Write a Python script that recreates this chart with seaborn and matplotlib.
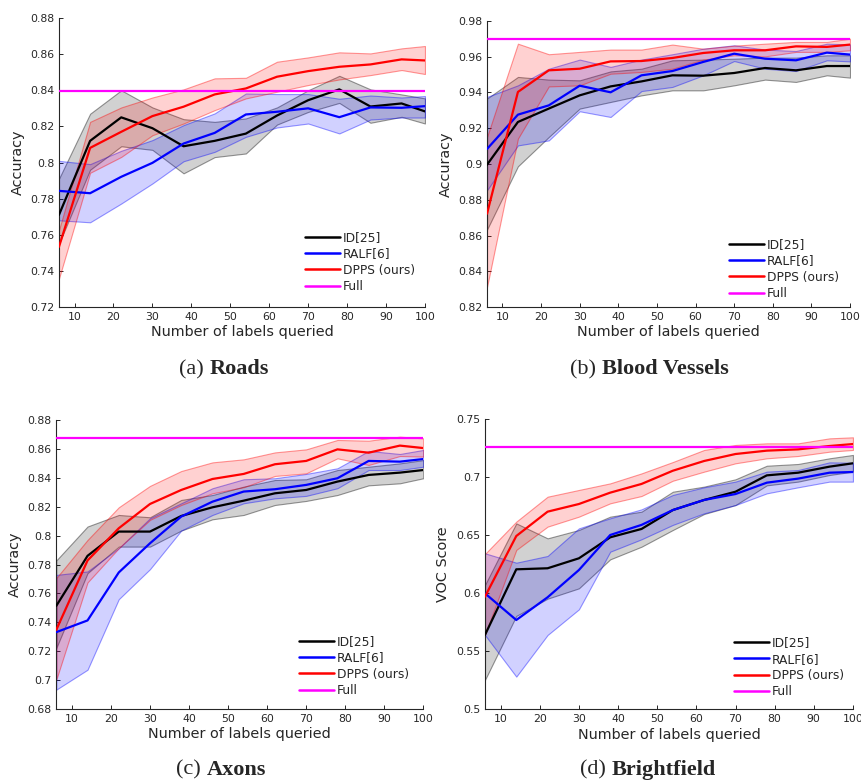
import numpy as np
import pandas as pd
import seaborn as sns
import matplotlib
matplotlib.use("Agg")
import matplotlib.pyplot as plt
from matplotlib.lines import Line2D
from matplotlib.ticker import FuncFormatter

# ---------------------------------------------------------------------------
# Data: number of labels queried and mean / lower / upper curves per method
# ---------------------------------------------------------------------------
labels_queried = [6, 14, 22, 30, 38, 46, 54, 62, 70, 78, 86, 94, 100]
methods = ["ID[25]", "RALF[6]", "DPPS (ours)"]

# (a) Roads
roads_id = [0.771, 0.812, 0.825, 0.819, 0.809, 0.812, 0.816, 0.826, 0.8345, 0.8405, 0.831, 0.8327, 0.8283]
roads_id_lo = [0.755, 0.796, 0.809, 0.807, 0.794, 0.803, 0.805, 0.821, 0.828, 0.833, 0.822, 0.8253, 0.8216]
roads_id_hi = [0.791, 0.827, 0.840, 0.8305, 0.824, 0.8225, 0.8244, 0.8305, 0.840, 0.848, 0.8405, 0.8377, 0.8355]
roads_ralf = [0.7843, 0.783, 0.7921, 0.7998, 0.8105, 0.8164, 0.8266, 0.8281, 0.830, 0.8251, 0.8305, 0.8303, 0.8312]
roads_ralf_lo = [0.768, 0.7669, 0.7773, 0.7884, 0.8007, 0.8059, 0.8142, 0.8194, 0.8216, 0.8161, 0.8238, 0.8249, 0.8249]
roads_ralf_hi = [0.8009, 0.7991, 0.8065, 0.8124, 0.8207, 0.8272, 0.8382, 0.8379, 0.8379, 0.8353, 0.8371, 0.836, 0.8368]
roads_dpps = [0.7533, 0.8081, 0.817, 0.8257, 0.8309, 0.8377, 0.841, 0.8475, 0.8506, 0.853, 0.8543, 0.8571, 0.8565]
roads_dpps_lo = [0.7357, 0.7943, 0.8031, 0.8151, 0.8216, 0.829, 0.8355, 0.8392, 0.8429, 0.846, 0.8484, 0.8512, 0.849]
roads_dpps_hi = [0.7625, 0.8225, 0.8305, 0.836, 0.8405, 0.8466, 0.8469, 0.8558, 0.8582, 0.861, 0.8604, 0.8632, 0.8645]
roads_full = 0.8395

# (b) Blood Vessels
vessels_id = [0.8996, 0.9235, 0.931, 0.9384, 0.9434, 0.9462, 0.9496, 0.9494, 0.9509, 0.9537, 0.9524, 0.9548, 0.9548]
vessels_id_lo = [0.8633, 0.8987, 0.9151, 0.931, 0.9347, 0.9384, 0.9412, 0.9412, 0.944, 0.9472, 0.9459, 0.9496, 0.9483]
vessels_id_hi = [0.9366, 0.9487, 0.9472, 0.9468, 0.9518, 0.9533, 0.958, 0.9584, 0.9589, 0.9595, 0.9595, 0.9608, 0.9608]
vessels_ralf = [0.9084, 0.9276, 0.9328, 0.9438, 0.9401, 0.9496, 0.952, 0.9571, 0.9617, 0.9589, 0.958, 0.9623, 0.9612]
vessels_ralf_lo = [0.8853, 0.9104, 0.9132, 0.9295, 0.9263, 0.9408, 0.9431, 0.9496, 0.9576, 0.9533, 0.952, 0.958, 0.9574]
vessels_ralf_hi = [0.9375, 0.944, 0.9533, 0.9584, 0.9543, 0.9584, 0.9614, 0.9645, 0.9664, 0.964, 0.9632, 0.9673, 0.9669]
vessels_dpps = [0.8722, 0.9403, 0.9524, 0.9533, 0.9574, 0.9576, 0.9593, 0.9621, 0.9636, 0.9636, 0.9658, 0.9655, 0.9668]
vessels_dpps_lo = [0.8312, 0.9142, 0.9434, 0.944, 0.9505, 0.9515, 0.9533, 0.9584, 0.9608, 0.9602, 0.9627, 0.9627, 0.9636]
vessels_dpps_hi = [0.9151, 0.9673, 0.9614, 0.9627, 0.964, 0.964, 0.9668, 0.9645, 0.9662, 0.9673, 0.9683, 0.9683, 0.9701]
vessels_full = 0.970

# (c) Axons
axons_id = [0.7514, 0.786, 0.8028, 0.8028, 0.8136, 0.8196, 0.8242, 0.8293, 0.8316, 0.8374, 0.842, 0.8436, 0.8454]
axons_id_lo = [0.7222, 0.774, 0.7924, 0.7924, 0.8035, 0.8113, 0.8143, 0.8212, 0.824, 0.8281, 0.8348, 0.8362, 0.8397]
axons_id_hi = [0.7828, 0.8063, 0.8143, 0.8127, 0.8247, 0.8281, 0.8339, 0.8385, 0.839, 0.8454, 0.8477, 0.850, 0.8523]
axons_ralf = [0.7332, 0.7413, 0.7745, 0.7947, 0.8132, 0.8235, 0.8305, 0.8321, 0.8351, 0.8397, 0.8517, 0.8512, 0.853]
axons_ralf_lo = [0.6934, 0.7072, 0.756, 0.7768, 0.8035, 0.8143, 0.8224, 0.8258, 0.8275, 0.8328, 0.8454, 0.8454, 0.8477]
axons_ralf_hi = [0.7728, 0.7752, 0.7913, 0.812, 0.8224, 0.8328, 0.839, 0.8397, 0.8427, 0.8466, 0.8586, 0.8565, 0.8593]
axons_dpps = [0.7348, 0.7828, 0.8051, 0.8219, 0.8316, 0.8392, 0.8427, 0.8494, 0.8517, 0.8597, 0.8574, 0.8623, 0.8606]
axons_dpps_lo = [0.7003, 0.7676, 0.7913, 0.8109, 0.8212, 0.8293, 0.8335, 0.8413, 0.8431, 0.8535, 0.8489, 0.8551, 0.8547]
axons_dpps_hi = [0.7706, 0.797, 0.8196, 0.8344, 0.8447, 0.8507, 0.8528, 0.8576, 0.8597, 0.8662, 0.8657, 0.8685, 0.8673]
axons_full = 0.8678

# (d) Brightfield
bright_id = [0.5641, 0.6207, 0.6216, 0.6302, 0.6483, 0.6555, 0.6718, 0.6805, 0.6876, 0.7017, 0.704, 0.7092, 0.7121]
bright_id_lo = [0.5253, 0.5805, 0.5954, 0.6043, 0.6293, 0.6402, 0.6546, 0.6684, 0.6761, 0.6931, 0.6963, 0.702, 0.7049]
bright_id_hi = [0.6072, 0.6603, 0.6474, 0.6546, 0.6661, 0.6704, 0.6876, 0.692, 0.6983, 0.710, 0.7115, 0.7164, 0.7193]
bright_ralf = [0.600, 0.577, 0.5966, 0.6201, 0.6503, 0.659, 0.6718, 0.6805, 0.6856, 0.6954, 0.6989, 0.704, 0.7046]
bright_ralf_lo = [0.5641, 0.5282, 0.5641, 0.5862, 0.6359, 0.6466, 0.659, 0.669, 0.6761, 0.6862, 0.6914, 0.6963, 0.6963]
bright_ralf_hi = [0.6345, 0.6264, 0.6322, 0.656, 0.6647, 0.6724, 0.6848, 0.6914, 0.6963, 0.7049, 0.7063, 0.7129, 0.7126]
bright_dpps = [0.5971, 0.6494, 0.6704, 0.677, 0.6868, 0.6943, 0.7057, 0.7141, 0.7201, 0.723, 0.7241, 0.727, 0.7287]
bright_dpps_lo = [0.5641, 0.6374, 0.6575, 0.6661, 0.6776, 0.6839, 0.6971, 0.7049, 0.7121, 0.7164, 0.7184, 0.7221, 0.7236]
bright_dpps_hi = [0.6339, 0.6618, 0.6833, 0.6891, 0.6948, 0.7034, 0.7132, 0.7236, 0.7279, 0.7293, 0.7293, 0.7336, 0.7345]
bright_full = 0.7264

x_ticks = [10, 20, 30, 40, 50, 60, 70, 80, 90, 100]

# ---------------------------------------------------------------------------
# Style
# ---------------------------------------------------------------------------
sns.set_style("ticks", {"xtick.direction": "in", "ytick.direction": "in"})
plt.rcParams["font.family"] = ["DejaVu Sans"]
plt.rcParams["axes.edgecolor"] = "#262626"
plt.rcParams["xtick.color"] = "#262626"
plt.rcParams["ytick.color"] = "#262626"
plt.rcParams["axes.labelcolor"] = "#262626"

palette = {"ID[25]": (0, 0, 0), "RALF[6]": (0, 0, 1), "DPPS (ours)": (1, 0, 0)}
full_color = (1, 0, 1)

fig = plt.figure(figsize=(8.62, 7.80), dpi=100)

panels = [
    dict(rect=[0.0684, 0.6064, 0.4246, 0.3705], ylim=(0.72, 0.88), ystep=0.02, ylabel="Accuracy",
         series=[(roads_id, roads_id_lo, roads_id_hi), (roads_ralf, roads_ralf_lo, roads_ralf_hi),
                 (roads_dpps, roads_dpps_lo, roads_dpps_hi)], full=roads_full,
         leg=(0.672, 0.263), cap=(0.2599, 0.5205), tag="(a) ", name="Roads"),
    dict(rect=[0.5650, 0.6064, 0.4211, 0.3667], ylim=(0.82, 0.98), ystep=0.02, ylabel="Accuracy",
         series=[(vessels_id, vessels_id_lo, vessels_id_hi), (vessels_ralf, vessels_ralf_lo, vessels_ralf_hi),
                 (vessels_dpps, vessels_dpps_lo, vessels_dpps_hi)], full=vessels_full,
         leg=(0.667, 0.241), cap=(0.7535, 0.5205), tag="(b) ", name="Blood Vessels"),
    dict(rect=[0.0653, 0.0910, 0.4258, 0.3705], ylim=(0.68, 0.88), ystep=0.02, ylabel="Accuracy",
         series=[(axons_id, axons_id_lo, axons_id_hi), (axons_ralf, axons_ralf_lo, axons_ralf_hi),
                 (axons_dpps, axons_dpps_lo, axons_dpps_hi)], full=axons_full,
         leg=(0.662, 0.256), cap=(0.2564, 0.0070), tag="(c) ", name="Axons"),
    dict(rect=[0.5626, 0.0906, 0.4269, 0.3718], ylim=(0.50, 0.75), ystep=0.05, ylabel="VOC Score",
         series=[(bright_id, bright_id_lo, bright_id_hi), (bright_ralf, bright_ralf_lo, bright_ralf_hi),
                 (bright_dpps, bright_dpps_lo, bright_dpps_hi)], full=bright_full,
         leg=(0.677, 0.252), cap=(0.7517, 0.0070), tag="(d) ", name="Brightfield"),
]

fmt = FuncFormatter(lambda v, _: f"{round(v, 3):g}")
captions = []

for p in panels:
    ax = fig.add_axes(p["rect"])
    rows = []
    for m, (mean, lo, hi) in zip(methods, p["series"]):
        col = palette[m]
        ax.fill_between(labels_queried, lo, hi, facecolor=(*col, 0.18),
                        edgecolor=(*col, 0.4), linewidth=0.8, zorder=1)
        rows.append(pd.DataFrame({"labels": labels_queried, "score": mean, "method": m}))
    df = pd.concat(rows, ignore_index=True)
    sns.lineplot(data=df, x="labels", y="score", hue="method", hue_order=methods,
                 palette=palette, linewidth=1.6, legend=False, ax=ax, zorder=3)
    ax.axhline(p["full"], color=full_color, linewidth=1.6, zorder=4)

    ax.set_xlim(6, 100)
    ax.set_ylim(*p["ylim"])
    ax.set_xticks(x_ticks)
    ax.set_yticks(np.arange(p["ylim"][0], p["ylim"][1] + 1e-9, p["ystep"]))
    ax.yaxis.set_major_formatter(fmt)
    ax.tick_params(labelsize=7.8, length=3, width=0.7, direction="in", pad=3.5)
    for s in ("top", "right"):
        ax.spines[s].set_visible(False)
    for s in ("left", "bottom"):
        ax.spines[s].set_linewidth(0.8)
    ax.set_xlabel("Number of labels queried", fontsize=10.4, labelpad=2.5)
    ax.set_ylabel(p["ylabel"], fontsize=10.4, labelpad=4)

    handles = [Line2D([], [], color=palette[m], linewidth=1.8) for m in methods]
    handles.append(Line2D([], [], color=full_color, linewidth=1.8))
    ax.legend(handles, methods + ["Full"], loc="upper left", bbox_to_anchor=p["leg"],
              frameon=False, fontsize=8.8, handlelength=2.85, handletextpad=0.25,
              labelspacing=0.27, borderpad=0, borderaxespad=0)

    t1 = fig.text(0, p["cap"][1], p["tag"], family="Liberation Serif", fontsize=16, va="baseline")
    t2 = fig.text(0, p["cap"][1], p["name"], family="Liberation Serif", fontsize=16,
                  fontweight="bold", va="baseline")
    captions.append((t1, t2, p["cap"][0]))

# centre each two-part caption under its panel
fig.canvas.draw()
r = fig.canvas.get_renderer()
W = fig.bbox.width
for t1, t2, cx in captions:
    w1 = t1.get_window_extent(r).width / W
    w2 = t2.get_window_extent(r).width / W
    x0 = cx - (w1 + w2) / 2
    t1.set_x(x0)
    t2.set_x(x0 + w1)

fig.savefig("out.png", dpi=100)
